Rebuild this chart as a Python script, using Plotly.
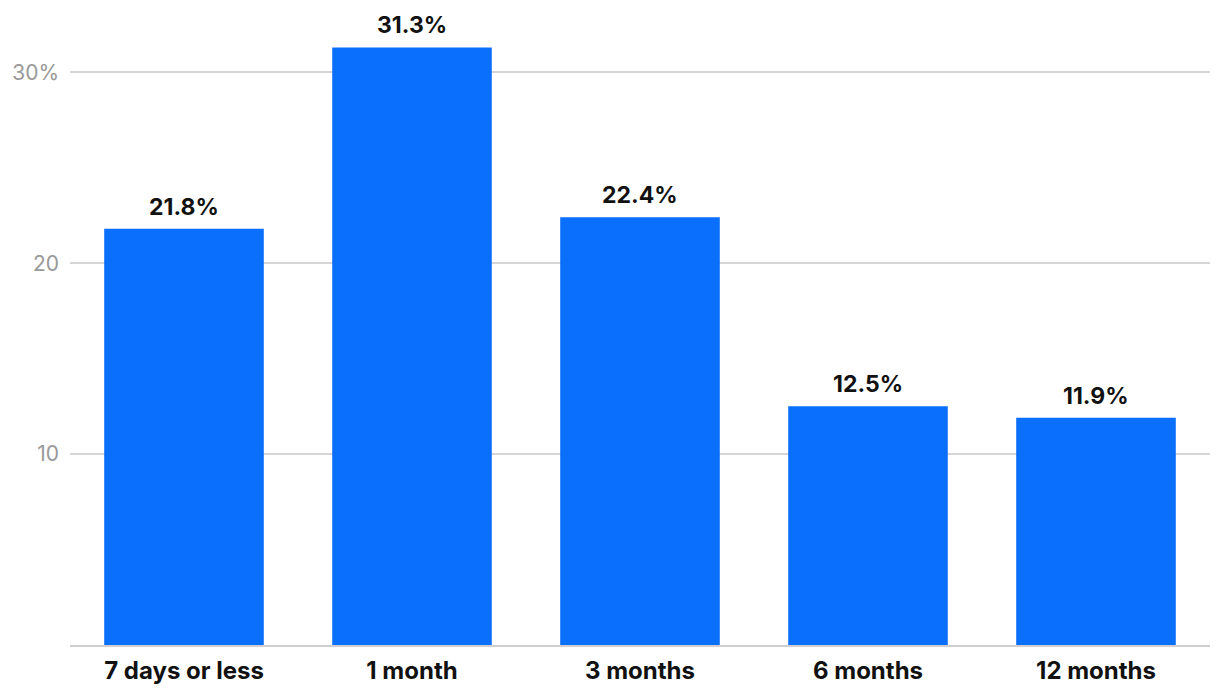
import plotly.graph_objects as go

categories = ["7 days or less", "1 month", "3 months", "6 months", "12 months"]
values = [21.8, 31.3, 22.4, 12.5, 11.9]
value_labels = ["21.8%", "31.3%", "22.4%", "12.5%", "11.9%"]
y_tickvals = [10, 20, 30]
y_ticktext = ["10", "20", "30%"]

fig = go.Figure()
fig.add_trace(go.Bar(
    x=categories, y=values,
    marker=dict(color="#0a6ffd", line=dict(width=0)),
    width=0.7,
    hoverinfo="skip",
))
for c, v, t in zip(categories, values, value_labels):
    fig.add_annotation(x=c, y=v, text=t, showarrow=False, yanchor="bottom", yshift=6,
                       font=dict(family="Inter, Lato, sans-serif", size=23, color="#111111", weight="bold"))

fig.update_layout(
    width=1220, height=698,
    margin=dict(l=62, r=18, t=7, b=61, autoexpand=False),
    paper_bgcolor="white", plot_bgcolor="white",
    showlegend=False,
    bargap=0.3,
)
fig.update_xaxes(
    showline=True, linecolor="#cfcfcf", linewidth=2,
    showgrid=False, ticks="", ticklabelstandoff=3,
    tickfont=dict(family="Inter, Lato, sans-serif", size=24, color="#111111", weight="bold"),
)
fig.update_yaxes(
    range=[0, 33], tickvals=y_tickvals, ticktext=y_ticktext,
    showgrid=True, gridcolor="#d6d6d6", gridwidth=1.5,
    zeroline=False, showline=False, ticks="", ticklabelstandoff=10,
    tickfont=dict(family="Inter, Lato, sans-serif", size=21, color="#999999"),
)
fig.write_html("out.html")
